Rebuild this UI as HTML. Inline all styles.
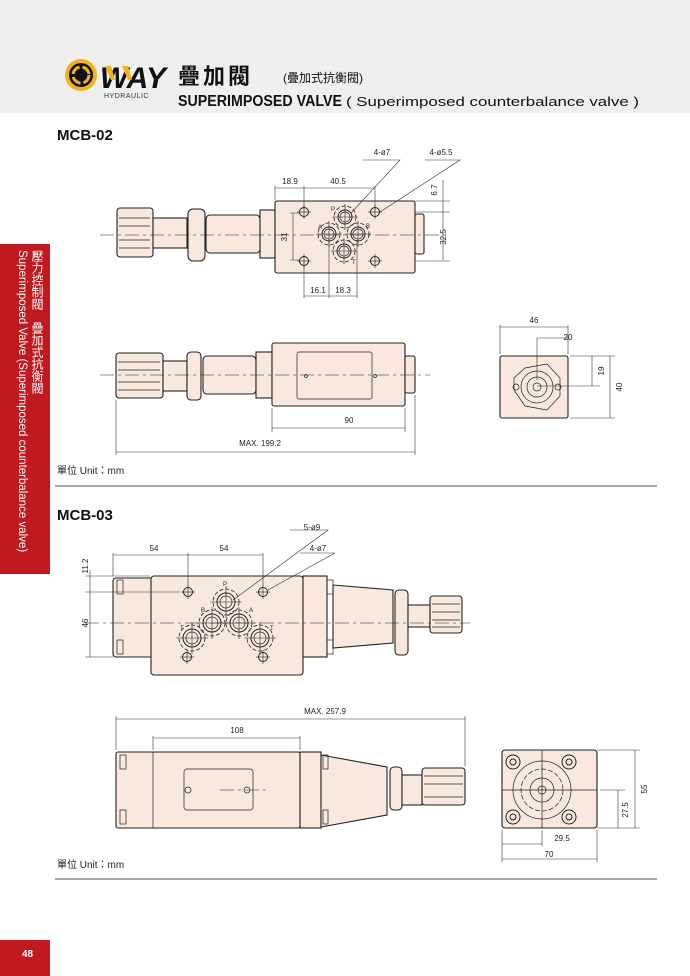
<!DOCTYPE html>
<html><head><meta charset="utf-8"><style>
body{margin:0;width:690px;height:976px;background:#fff;overflow:hidden;position:relative;font-family:"Liberation Sans","Noto Sans CJK TC",sans-serif}
svg{position:absolute;left:0;top:0}
.vt{position:absolute;writing-mode:vertical-rl;color:#fff;font-size:12px;line-height:14px}
</style></head><body>
<svg width="690" height="976" viewBox="0 0 690 976" font-family="Liberation Sans, Noto Sans CJK TC, sans-serif">
<defs>
<g id="gh"><circle r="4.5" fill="none" stroke="#222" stroke-width="1"/><line x1="-7" y1="0" x2="7" y2="0" stroke="#222" stroke-width=".6"/><line x1="0" y1="-7" x2="0" y2="7" stroke="#222" stroke-width=".6"/></g>
<g id="port"><circle r="11" fill="none" stroke="#222" stroke-width=".8" stroke-dasharray="4 2"/><circle r="7" fill="none" stroke="#222" stroke-width="1"/><circle r="5" fill="none" stroke="#222" stroke-width=".7"/><line x1="-13" y1="0" x2="13" y2="0" stroke="#222" stroke-width=".6"/><line x1="0" y1="-13" x2="0" y2="13" stroke="#222" stroke-width=".6"/></g>
<g id="port2"><circle r="13" fill="none" stroke="#222" stroke-width=".8" stroke-dasharray="4 2"/><circle r="9" fill="none" stroke="#222" stroke-width="1"/><circle r="6" fill="none" stroke="#222" stroke-width=".7"/><line x1="-16" y1="0" x2="16" y2="0" stroke="#222" stroke-width=".6"/><line x1="0" y1="-16" x2="0" y2="16" stroke="#222" stroke-width=".6"/></g>
</defs>
<!-- header -->
<rect x="0" y="0" width="690" height="113" fill="#efefef"/>
<circle cx="81" cy="75" r="16" fill="#f3b21b"/><circle cx="81" cy="75" r="12" fill="#111"/><circle cx="81" cy="75" r="8" fill="none" stroke="#f3b21b" stroke-width="3" stroke-dasharray="10 3"/>
<text x="100" y="88" font-size="30" font-weight="bold" font-style="italic" fill="#111" textLength="66" lengthAdjust="spacingAndGlyphs">WAY</text>
<polygon points="105,66 111,66 115,80 111,80" fill="#f3b21b"/><polygon points="122,66 128,66 132,80 128,80" fill="#f3b21b"/>
<text x="104" y="98" font-size="7" fill="#333" letter-spacing=".5">HYDRAULIC</text>
<text x="178" y="84" font-size="22" font-weight="bold" fill="#111" letter-spacing="3">疊加閥</text>
<text x="283" y="82" font-size="12" fill="#111">(疊加式抗衡閥)</text>
<text x="178" y="106" font-size="16" font-weight="bold" fill="#111" textLength="164" lengthAdjust="spacingAndGlyphs">SUPERIMPOSED VALVE</text>
<text x="346" y="106" font-size="13" fill="#111" textLength="293" lengthAdjust="spacingAndGlyphs">( Superimposed counterbalance valve )</text>
<!-- side tab -->
<rect x="0" y="244" width="50" height="330" fill="#c0191f"/>
<rect x="0" y="940" width="50" height="36" fill="#c0191f"/>
<text x="22" y="957" font-size="10" font-weight="bold" fill="#fff">48</text>
<!-- section titles -->
<text x="57" y="140" font-size="15" font-weight="bold" fill="#111">MCB-02</text>
<text x="57" y="520" font-size="15" font-weight="bold" fill="#111">MCB-03</text>
<text x="57" y="474" font-size="10" fill="#222">單位 Unit：mm</text>
<text x="57" y="868" font-size="10" fill="#222">單位 Unit：mm</text>
<line x1="55" y1="486" x2="657" y2="486" stroke="#888" stroke-width="1.5"/>
<line x1="55" y1="879" x2="657" y2="879" stroke="#888" stroke-width="1.5"/>

<g fill="#f8e8dd" stroke="#222" stroke-width="1.1">
<rect x="117" y="208" width="36" height="49" rx="3"/>
<rect x="153" y="218" width="34" height="30"/>
<rect x="188" y="209" width="17" height="52" rx="5"/>
<rect x="206" y="215" width="54" height="38" rx="4"/>
<rect x="260" y="210" width="15" height="48"/>
<rect x="275" y="201" width="140" height="72" rx="2"/>
<rect x="415" y="214" width="9" height="40" rx="2"/>
<rect x="116" y="353" width="47" height="45" rx="3"/>
<rect x="163" y="361" width="24" height="30"/>
<rect x="187" y="352" width="14" height="48" rx="4"/>
<rect x="203" y="356" width="53" height="38" rx="4"/>
<rect x="256" y="352" width="16" height="46"/>
<rect x="272" y="343" width="133" height="63" rx="2"/>
<rect x="405" y="356" width="10" height="37" rx="2"/>
<rect x="500" y="356" width="68" height="62" rx="2"/>
<rect x="113" y="578" width="40" height="79" rx="3"/>
<rect x="151" y="576" width="152" height="99" rx="3"/>
<rect x="303" y="576" width="24" height="81"/>
<polygon points="333,585 393,590 393,643 333,648"/>
<rect x="395" y="590" width="13" height="65" rx="4"/>
<rect x="408" y="605" width="22" height="22"/>
<rect x="430" y="596" width="32" height="37" rx="3"/>
<rect x="116" y="752" width="184" height="76" rx="2"/>
<rect x="300" y="752" width="21" height="76"/>
<polygon points="321,755 387,767 387,815 321,827"/>
<rect x="390" y="767" width="12" height="43" rx="4"/>
<rect x="402" y="775" width="20" height="30"/>
<rect x="422" y="768" width="43" height="37" rx="3"/>
<rect x="502" y="750" width="95" height="78" rx="3"/>
</g>
<g fill="none" stroke="#222" stroke-width=".7">
<path d="M119,218H150M119,226H150M119,240H150M119,248H150"/>
<path d="M118,362H160M118,370H160M118,382H160M118,390H160"/>
<path d="M432,604H460M432,612H460M432,620H460M432,627H460"/>
<path d="M424,776H463M424,784H463M424,797H463"/>
<rect x="297" y="352" width="75" height="47" rx="2"/>
<circle cx="306" cy="376" r="1.5"/><circle cx="375" cy="376" r="1.5"/>
<rect x="184" y="769" width="69" height="41" rx="3"/>
<circle cx="188" cy="790" r="3"/><circle cx="247" cy="790" r="3"/>
<line x1="153" y1="752" x2="153" y2="828"/>
<polygon points="525,368 547,364 560,378 560,396 547,410 525,406 514,390 514,378" fill="#f8e8dd"/>
<circle cx="537" cy="387" r="16"/><circle cx="537" cy="387" r="10"/><circle cx="537" cy="387" r="4"/>
<circle cx="516" cy="387" r="3"/><circle cx="558" cy="387" r="3"/>
<circle cx="542" cy="790" r="29"/><circle cx="542" cy="790" r="21" stroke-dasharray="5 2"/><circle cx="542" cy="790" r="12"/><circle cx="542" cy="790" r="4"/>
<g stroke-width="1"><circle cx="513" cy="762" r="7"/><circle cx="513" cy="762" r="3"/><circle cx="569" cy="762" r="7"/><circle cx="569" cy="762" r="3"/><circle cx="513" cy="817" r="7"/><circle cx="513" cy="817" r="3"/><circle cx="569" cy="817" r="7"/><circle cx="569" cy="817" r="3"/></g>
<path d="M502,790H597M542,750V828"/>
<rect x="117" y="580" width="6" height="14"/><rect x="117" y="640" width="6" height="14"/>
<rect x="120" y="755" width="6" height="14"/><rect x="120" y="810" width="6" height="14"/>
<rect x="327" y="580" width="6" height="14"/><rect x="327" y="640" width="6" height="14"/>
<rect x="323" y="755" width="5" height="14"/><rect x="323" y="810" width="5" height="14"/>
</g>
<g stroke="#222" stroke-width=".6" stroke-dasharray="14 4 3 4" fill="none">
<path d="M100,235H450M100,375H430M85,623H470M220,790H270"/>
</g>
<use href="#gh" x="304" y="212"/><use href="#gh" x="375" y="212"/><use href="#gh" x="304" y="261"/><use href="#gh" x="375" y="261"/>
<use href="#port" x="345" y="217"/><use href="#port" x="329" y="234"/><use href="#port" x="358" y="234"/><use href="#port" x="344" y="251"/>
<use href="#gh" x="188" y="592"/><use href="#gh" x="263" y="592"/><use href="#gh" x="187" y="657"/><use href="#gh" x="263" y="657"/>
<use href="#port2" x="226" y="602"/><use href="#port2" x="212" y="623"/><use href="#port2" x="239" y="623"/><use href="#port2" x="192" y="638"/><use href="#port2" x="260" y="638"/>
<g font-size="6" fill="#222"><text x="331" y="211">P</text><text x="318" y="229">A</text><text x="366" y="228">B</text><text x="352" y="264">T</text>
<text x="223" y="586">P</text><text x="201" y="612">B</text><text x="249" y="612">A</text><text x="180" y="630">T</text><text x="270" y="630">T</text></g>
<g stroke="#333" stroke-width=".6" fill="none">
<path d="M275,200V186M304,210V186M375,210V186M275,188H375"/>
<path d="M415,212H450M415,201H450M443,180V212M443,212V260M415,261H450"/>
<path d="M293,213V260M300,213H290M300,260H290"/>
<path d="M304,263V298M329,240V298M357,240V298M304,296H357"/>
<path d="M363,160H400L351,213M425,160H460L380,212"/>
<path d="M272,408V432M405,408V432M272,428H405M116,400V455M415,395V455M116,452H415"/>
<path d="M500,354V325M568,354V325M500,327H568M537,338V380M537,338H568"/>
<path d="M570,356H615M537,386H600M592,356V386M610,356V418M570,418H615"/>
<path d="M113,576V553M188,586V553M263,586V553M113,555H263"/>
<path d="M85,576H150M85,592H180M90,570V657M85,657H113"/>
<path d="M290,530H328L233,600M300,553H335L268,590"/>
<path d="M116,750V716M465,766V716M116,719H465M153,750V736M300,750V736M153,738H300"/>
<path d="M502,830V862M542,830V846M597,830V862M502,844H542M502,859H597"/>
<path d="M597,750H640M597,828H640M600,790H625M618,790V828M635,750V828"/>
</g>
<g font-size="8" fill="#222" text-anchor="middle">
<text x="290" y="184">18.9</text><text x="338" y="184">40.5</text>
<text x="382" y="155">4-ø7</text><text x="441" y="155">4-ø5.5</text>
<text x="318" y="293">16.1</text><text x="343" y="293">18.3</text>
<text x="349" y="423">90</text><text x="260" y="446">MAX. 199.2</text>
<text x="534" y="323">46</text><text x="568" y="340">20</text>
<text x="562" y="841">29.5</text><text x="549" y="857">70</text>
<text x="154" y="551">54</text><text x="224" y="551">54</text>
<text x="312" y="530">5-ø9</text><text x="318" y="551">4-ø7</text>
<text x="325" y="714">MAX. 257.9</text><text x="237" y="733">108</text>
</g>
<g font-size="8" fill="#222" text-anchor="middle">
<text transform="translate(437,190) rotate(-90)">6.7</text>
<text transform="translate(446,237) rotate(-90)">32.5</text>
<text transform="translate(287,237) rotate(-90)">31</text>
<text transform="translate(604,371) rotate(-90)">19</text>
<text transform="translate(622,387) rotate(-90)">40</text>
<text transform="translate(88,566) rotate(-90)">11.2</text>
<text transform="translate(88,623) rotate(-90)">46</text>
<text transform="translate(628,810) rotate(-90)">27.5</text>
<text transform="translate(647,789) rotate(-90)">55</text>
</g>
</svg>
<div class="vt" style="left:30px;top:250px;font-size:12px;line-height:14px;">壓力控制閥　疊加式抗衡閥</div>
<div class="vt" style="left:15px;top:250px;font-size:11.5px;line-height:14px;">Superimposed Valve (Superimposed counterbalance valve)</div>
</body></html>
